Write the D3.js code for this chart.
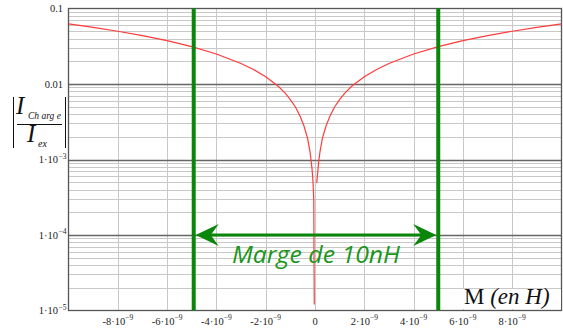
<!DOCTYPE html>
<html>
<head>
<meta charset="utf-8">
<script src="https://cdn.jsdelivr.net/npm/d3@7"></script>
<style>
  body { margin: 0; background: #fff; }
  svg { display: block; }
</style>
</head>
<body>
<svg id="chart" width="563" height="331"></svg>
<script>
// mutual inductance M (nH) and read ratio |I_charge / I_ex|
const mNano = [-10, -9, -8, -7, -6, -5, -4, -3, -2.5, -2, -1.5, -1.2, -1, -0.8, -0.6, -0.45, -0.3, -0.2, -0.12, -0.08, -0.05, -0.03,
               0,
               0.07, 0.1, 0.15, 0.2, 0.3, 0.45, 0.6, 0.8, 1, 1.2, 1.5, 2, 2.5, 3, 4, 5, 6, 7, 8, 9, 10];
const ratio = [0.0624, 0.0562, 0.0500, 0.0437, 0.0375, 0.0312, 0.0250, 0.0187, 0.0156, 0.0125, 0.0094, 0.0075, 0.0062, 0.0050, 0.0037, 0.0028, 0.0019, 0.00125, 0.00075, 0.0005, 0.00029, 0.000012,
               null,
               0.00049, 0.00062, 0.00094, 0.00125, 0.0019, 0.0028, 0.0037, 0.0050, 0.0062, 0.0075, 0.0094, 0.0125, 0.0156, 0.0187, 0.0250, 0.0312, 0.0375, 0.0437, 0.0500, 0.0562, 0.0624];

const xTickValues = [-8, -6, -4, -2, 0, 2, 4, 6, 8];   // ×10^-9
const yTickValues = [0.1, 0.01, 1e-3, 1e-4, 1e-5];
const yTickLabels = [["0.1", ""], ["0.01", ""], ["1·10", "-3"], ["1·10", "-4"], ["1·10", "-5"]];
const marginBounds = [-4.92, 5];   // nH, as drawn
const marginLevel = 1e-4;
const marginText = "Marge de 10nH";

const svg = d3.select("#chart");
const plotLeft = 68.5, plotRight = 561.5, plotTop = 8.5, plotBottom = 310.5;

const x = d3.scaleLinear().domain([-1e-8, 1e-8]).range([plotLeft, plotRight]);
const y = d3.scaleLog().domain([1e-5, 0.1]).range([plotBottom, plotTop]);

// grid
const grid = svg.append("g");
const minor = [];
[1e-5, 1e-4, 1e-3, 1e-2].forEach(d => d3.range(2, 10).forEach(k => minor.push(d * k)));
grid.selectAll(".minor").data(minor).enter().append("line")
    .attr("x1", plotLeft).attr("x2", plotRight)
    .attr("y1", d => Math.round(y(d)) + 0.5).attr("y2", d => Math.round(y(d)) + 0.5)
    .attr("stroke", "#c8c8c8").attr("stroke-width", 1);
grid.selectAll(".vgrid").data(xTickValues).enter().append("line")
    .attr("x1", d => Math.round(x(d * 1e-9)) + 0.5).attr("x2", d => Math.round(x(d * 1e-9)) + 0.5)
    .attr("y1", plotTop).attr("y2", plotBottom)
    .attr("stroke", "#c8c8c8").attr("stroke-width", 1);
grid.selectAll(".major").data([1e-4, 1e-3, 1e-2]).enter().append("line")
    .attr("x1", plotLeft).attr("x2", plotRight)
    .attr("y1", d => Math.round(y(d)) + 0.5).attr("y2", d => Math.round(y(d)) + 0.5)
    .attr("stroke", "#666").attr("stroke-width", 1.3);
svg.append("rect")
    .attr("x", plotLeft).attr("y", plotTop).attr("width", plotRight - plotLeft).attr("height", plotBottom - plotTop)
    .attr("fill", "none").attr("stroke", "#555").attr("stroke-width", 1.3);

// y tick labels
const yt = svg.append("g").attr("font-family", "'Liberation Serif', 'Times New Roman', serif")
    .attr("fill", "#222");
yTickValues.forEach((v, i) => {
  yt.append("text")
      .attr("x", yTickLabels[i][1] ? 58 : 63)
      .attr("y", y(v) + 3.5)
      .attr("text-anchor", "end")
      .attr("font-size", 10.5)
      .text(yTickLabels[i][0]);
  if (yTickLabels[i][1]) {
    yt.append("text")
        .attr("x", 58.5).attr("y", y(v) - 1)
        .attr("font-size", 7.5)
        .text(yTickLabels[i][1].replace("-", "−"));
  }
});

// x tick labels
const xt = svg.append("g").attr("font-family", "'Liberation Serif', 'Times New Roman', serif")
    .attr("fill", "#222");
xTickValues.forEach(v => {
  const cx = x(v * 1e-9);
  if (v === 0) {
    xt.append("text").attr("x", cx).attr("y", 325).attr("text-anchor", "middle")
        .attr("font-size", 10.5).text("0");
    return;
  }
  const g = xt.append("text").attr("y", 325).attr("font-size", 10.5);
  g.append("tspan").text((v < 0 ? "-" : "") + Math.abs(v) + "·10");
  g.append("tspan").attr("dy", -5).attr("font-size", 7.5).text("−9");
  const w = g.node().getComputedTextLength();
  g.attr("x", cx - w / 2);
});

// curve
const curve = d3.line()
    .defined((d, i) => ratio[i] !== null)
    .x(d => x(d * 1e-9))
    .y((d, i) => y(ratio[i]));
svg.append("path")
    .datum(mNano)
    .attr("d", curve)
    .attr("fill", "none")
    .attr("stroke", "#ff3b3b")
    .attr("stroke-width", 1.2);

// margin markers
const green = "#0a870a";
svg.selectAll(".marge").data(marginBounds).enter().append("line")
    .attr("x1", d => x(d * 1e-9)).attr("x2", d => x(d * 1e-9))
    .attr("y1", plotTop).attr("y2", plotBottom)
    .attr("stroke", green).attr("stroke-width", 4);

const ax0 = x(marginBounds[0] * 1e-9) + 2, ax1 = x(marginBounds[1] * 1e-9) - 2;
const ay = y(marginLevel);
svg.append("line")
    .attr("x1", ax0 + 10).attr("x2", ax1 - 10)
    .attr("y1", ay).attr("y2", ay)
    .attr("stroke", green).attr("stroke-width", 3);
const head = (tip, dir) => {
  const p = d3.path();
  p.moveTo(tip, ay);
  p.lineTo(tip + dir * 23, ay - 11);
  p.lineTo(tip + dir * 15, ay);
  p.lineTo(tip + dir * 23, ay + 11);
  p.closePath();
  return p.toString();
};
svg.append("path").attr("d", head(ax0, 1)).attr("fill", green);
svg.append("path").attr("d", head(ax1, -1)).attr("fill", green);

svg.append("text")
    .attr("x", 232).attr("y", 263)
    .attr("font-family", "'Open Sans', sans-serif")
    .attr("font-style", "italic")
    .attr("font-size", 23)
    .attr("textLength", 168)
    .attr("lengthAdjust", "spacingAndGlyphs")
    .attr("fill", "#1a961a")
    .text(marginText);

// x axis title
svg.append("rect").attr("x", 462).attr("y", 289).attr("width", 99).attr("height", 20).attr("fill", "#fff");
const xl = svg.append("text")
    .attr("x", 464).attr("y", 304)
    .attr("font-family", "'Liberation Serif', 'Times New Roman', serif")
    .attr("font-size", 23)
    .attr("fill", "#111");
xl.append("tspan").text("M ");
xl.append("tspan").attr("font-style", "italic").text("(en H)");

// y axis title: |I_Charge / I_ex|
const yl = svg.append("g")
    .attr("font-family", "'Liberation Serif', 'Times New Roman', serif")
    .attr("font-style", "italic")
    .attr("fill", "#111");
yl.append("line").attr("x1", 13.5).attr("x2", 13.5).attr("y1", 97).attr("y2", 148).attr("stroke", "#111").attr("stroke-width", 1);
yl.append("line").attr("x1", 65.5).attr("x2", 65.5).attr("y1", 97).attr("y2", 148).attr("stroke", "#111").attr("stroke-width", 1);
yl.append("line").attr("x1", 17).attr("x2", 62).attr("y1", 124.5).attr("y2", 124.5).attr("stroke", "#111").attr("stroke-width", 1);
yl.append("text").attr("x", 16).attr("y", 114).attr("font-size", 25).text("I");
yl.append("text").attr("x", 28).attr("y", 119).attr("font-size", 9.5).text("Ch arg e");
yl.append("text").attr("x", 27).attr("y", 142).attr("font-size", 25).text("I");
yl.append("text").attr("x", 38).attr("y", 147).attr("font-size", 10).text("ex");
</script>
</body>
</html>
